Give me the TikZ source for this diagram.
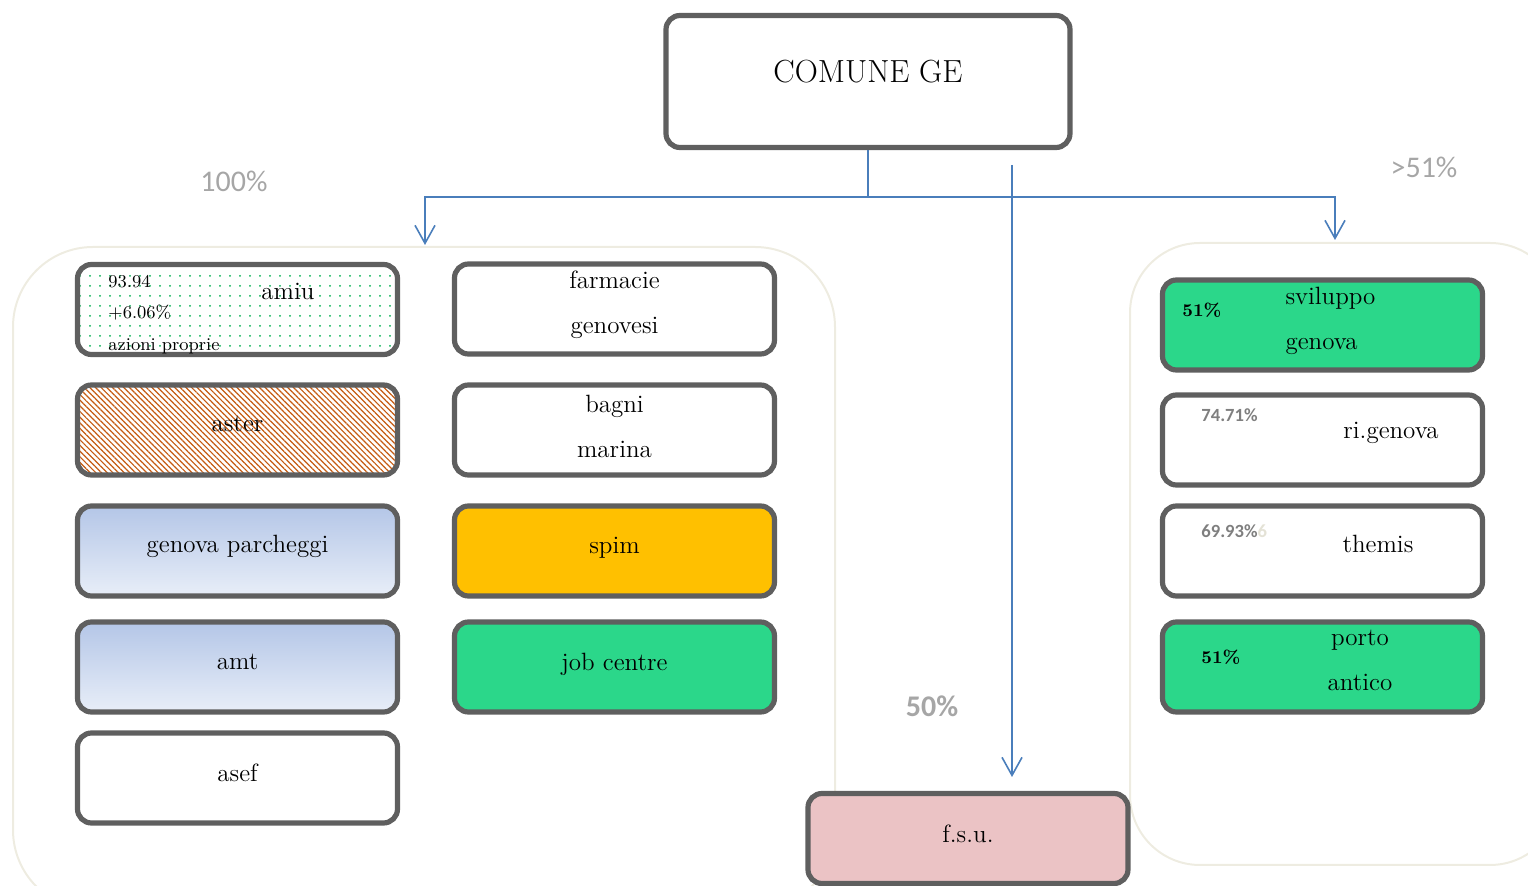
\documentclass[tikz,border=0pt]{standalone}
\usepackage{fontspec}
\newfontfamily\pctfont{Carlito}
\usetikzlibrary{arrows.meta,patterns.meta}

\definecolor{boxgray}{HTML}{5F5F5F}
\definecolor{linkblue}{HTML}{4A7EBB}
\definecolor{framebeige}{HTML}{EEECE1}
\definecolor{mintgreen}{HTML}{2BD78A}
\definecolor{spimorange}{HTML}{FFC000}
\definecolor{fsupink}{HTML}{EBC3C5}
\definecolor{shadetop}{HTML}{B4C6E7}
\definecolor{shadebot}{HTML}{E8EEF8}
\definecolor{dotgreen}{HTML}{00B050}
\definecolor{hatchorange}{HTML}{C55A11}
\definecolor{sharegray}{HTML}{A6A6A6}
\definecolor{pctgray}{HTML}{7F7F7F}
\definecolor{faintgray}{HTML}{E4E2D6}

\newcommand{\liftlabel}[2][2.5pt]{\raisebox{#1}[\height][\depth]{#2}}

\begin{document}
\begin{tikzpicture}[x=0.5pt,y=-0.5pt,
	company/.style={draw=boxgray,line width=2.6pt,rounded corners=7pt,minimum width=160pt,minimum height=45pt,align=center,font=\fontsize{12.5}{15}\selectfont},
	tag/.style={font=\fontsize{12.5}{15}\selectfont},
	small/.style={font=\fontsize{9}{11}\selectfont,inner sep=0pt},
	minor/.style={text=pctgray,font=\pctfont\fontsize{9.3}{11}\selectfont\bfseries,inner sep=0pt},
	share/.style={text=sharegray,font=\pctfont\fontsize{15}{18}\selectfont},
	blueshade/.style={top color=shadetop,bottom color=shadebot},
	link/.style={draw=linkblue,line width=0.8pt,-{Straight Barb[length=9pt,width=10pt]}}]

	\useasboundingbox (0,0) rectangle (1528,886);
	\clip (0,0) rectangle (1528,886);

	% group frames
	\draw[framebeige,line width=1pt,rounded corners=40pt] (13,247) rectangle (835,910);
	\draw[framebeige,line width=1pt,rounded corners=35pt] (1130,243) rectangle (1560,865);

	\node[company,minimum width=202pt,minimum height=66pt,font=\fontsize{16}{19}\selectfont] (comune) at (868,81.5) {\liftlabel[5pt]{COMUNE GE}};

	% 100%
	\node[company,pattern={Dots[distance=5pt,radius=0.5pt]},pattern color=dotgreen] (amiu) at (237.5,309.5) {};
	\node[tag] (amiu-name) at (288,291) {amiu};
	\node[small,anchor=west] (amiu-share) at (108,282) {93.94};
	\node[small,anchor=west] (amiu-own) at (108,313) {+6.06\%};
	\node[small,anchor=west] (amiu-note) at (108,346) {azioni proprie};
	\node[company,pattern={Lines[angle=-45,distance=2pt,line width=0.6pt]},pattern color=hatchorange] (aster) at (237.5,430) {\liftlabel[3pt]{aster}};
	\node[company,blueshade] (parcheggi) at (237.5,551) {\liftlabel{genova parcheggi}};
	\node[company,blueshade] (amt) at (237.5,667) {\liftlabel{amt}};
	\node[company] (asef) at (237.5,778) {\liftlabel{asef}};

	\node[company] (farmacie) at (614.5,309) {\liftlabel[2pt]{farmacie}\\[7.5pt]\liftlabel[2pt]{genovesi}};
	\node[company] (bagni) at (614.5,430) {\liftlabel[2pt]{bagni}\\[7.5pt]\liftlabel[2pt]{marina}};
	\node[company,fill=spimorange] (spim) at (614.5,551) {\liftlabel[1.5pt]{spim}};
	\node[company,fill=mintgreen] (jobcentre) at (614.5,667) {\liftlabel[1.5pt]{job centre}};

	% 50%
	\node[company,fill=fsupink] (fsu) at (968,838.5) {\liftlabel{f.s.u.}};

	% >51%
	\node[company,fill=mintgreen,align=left] (sviluppo) at (1322.5,325) {\hspace*{8pt}\liftlabel[2pt]{sviluppo}\\[7.5pt]\hspace*{8pt}\liftlabel[2pt]{genova}};
	\node[small,font=\fontsize{9}{11}\selectfont\bfseries,anchor=west] (sviluppo-pct) at (1182,310) {51\%};
	\node[company] (rigenova) at (1322.5,440) {};
	\node[tag] (rigenova-name) at (1391,433) {ri.genova};
	\node[minor,anchor=west] (rigenova-pct) at (1201,415) {74.71\%};
	\node[company] (themis) at (1322.5,551) {};
	\node[tag] (themis-name) at (1378,544) {themis};
	\node[minor,anchor=west] (themis-pct) at (1201,531) {69.93\%\textcolor{faintgray}{6}};
	\node[company,fill=mintgreen] (porto) at (1322.5,667) {};
	\node[tag,align=center] (porto-name) at (1360,660) {porto\\[7.5pt]antico};
	\node[small,font=\fontsize{9}{11}\selectfont\bfseries,anchor=west] (porto-pct) at (1201,657) {51\%};

	\node[share] (share100) at (234,181) {100\%};
	\node[share] (share51) at (1424,167) {>51\%};
	\node[share,font=\pctfont\fontsize{15}{18}\selectfont\bfseries] (share50) at (932,706) {50\%};

	% connectors
	\coordinate (hub) at (868,197);
	\coordinate (in100) at (425,245);
	\coordinate (in51) at (1335,240);
	\coordinate (fsu-from) at (1012,165);
	\coordinate (fsu-in) at (1012,777);
	\draw[draw=linkblue,line width=0.8pt] (comune.south) -- (hub);
	\draw[link] (hub) -| (in100);
	\draw[link] (hub) -| (in51);
	\draw[link] (fsu-from) -- (fsu-in);
\end{tikzpicture}
\end{document}
